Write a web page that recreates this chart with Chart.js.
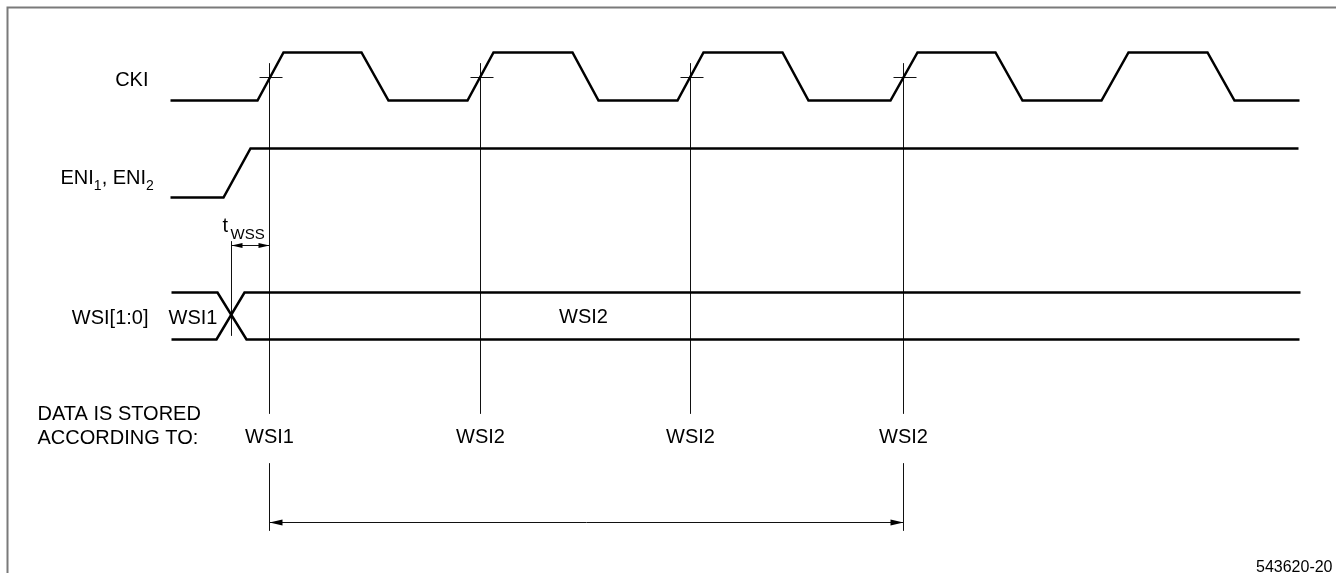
<!DOCTYPE html>
<html>
<head>
<meta charset="utf-8">
<script src="https://cdn.jsdelivr.net/npm/chart.js@4.4.0/dist/chart.umd.min.js"></script>
<style>
  body { margin: 0; background: #fff; }
  #wrap { width: 1336px; height: 573px; position: relative; }
</style>
</head>
<body>
<div id="wrap"><canvas id="diagrama"></canvas></div>
<script>
// señales (x en px del dibujo, y hacia abajo)
const ckiX = [170, 257, 283, 361, 388, 467, 493, 572, 598, 677, 703, 782, 808, 890, 917, 995, 1022, 1101, 1128, 1207, 1234, 1299];
const ckiY = [100, 100, 52, 52, 100, 100, 52, 52, 100, 100, 52, 52, 100, 100, 52, 52, 100, 100, 52, 52, 100, 100];

const eniX = [170, 223, 250, 1298];
const eniY = [197, 197, 148, 148];

const wsiAltoX = [171, 217, 246, 1299];
const wsiAltoY = [292, 292, 339, 339];
const wsiBajoX = [171, 216, 244, 1300];
const wsiBajoY = [339, 339, 292, 292];

// flancos de muestreo
const muestrasX = [269, 480, 690, 903];
const guardadoComo = ["WSI1", "WSI2", "WSI2", "WSI2"];
const cruceY = 77;
const setupX = 231;

// marco
const marcoX = [7, 7, 1336];
const marcoY = [573, 7, 7];

function puntos(xs, ys) {
    return xs.map((x, i) => ({ x: x, y: ys[i] }));
}

function linea(data, ancho, color) {
    return {
        data: data,
        showLine: true,
        borderColor: color,
        borderWidth: ancho,
        pointRadius: 0,
        tension: 0,
        fill: false
    };
}

const datasets = [];
datasets.push(linea(puntos(marcoX, marcoY), 2, "#7a7a7a"));
datasets.push(linea(puntos(ckiX, ckiY), 2.5, "#000"));
datasets.push(linea(puntos(eniX, eniY), 2.5, "#000"));
datasets.push(linea(puntos(wsiAltoX, wsiAltoY), 2.5, "#000"));
datasets.push(linea(puntos(wsiBajoX, wsiBajoY), 2.5, "#000"));

// lineas verticales y cruces
muestrasX.forEach((x, i) => {
    datasets.push(linea([{ x: x, y: 63 }, { x: x, y: 413 }], 1, "#111"));
    datasets.push(linea([{ x: x - 10, y: cruceY }, { x: x + 13, y: cruceY }], 1, "#111"));
    if (i === 0 || i === muestrasX.length - 1) {
        datasets.push(linea([{ x: x, y: 463 }, { x: x, y: 530 }], 1, "#111"));
    }
});
datasets.push(linea([{ x: setupX, y: 241 }, { x: setupX, y: 335 }], 1, "#111"));
// flechas
datasets.push(linea([{ x: setupX, y: 245 }, { x: muestrasX[0], y: 245 }], 1, "#111"));
datasets.push(linea([{ x: muestrasX[0], y: 522 }, { x: muestrasX[3], y: 522 }], 1, "#111"));

const textos = {
    id: "textos",
    afterDatasetsDraw(chart) {
        const ctx = chart.ctx;
        const sx = chart.scales.x, sy = chart.scales.y;
        const X = v => sx.getPixelForValue(v);
        const Y = v => sy.getPixelForValue(v);
        const fuente = "'Liberation Sans', Arial, sans-serif";

        function punta(x, y, dir, largo, medio) {
            ctx.beginPath();
            ctx.moveTo(X(x), Y(y));
            ctx.lineTo(X(x) - dir * largo, Y(y) - medio);
            ctx.lineTo(X(x) - dir * largo, Y(y) + medio);
            ctx.closePath();
            ctx.fill();
        }

        ctx.save();
        ctx.fillStyle = "#000";
        punta(setupX, 245, -1, 11, 2.5);
        punta(muestrasX[0], 245, 1, 11, 2.5);
        punta(muestrasX[0], 522, -1, 13, 3);
        punta(muestrasX[3], 522, 1, 13, 3);

        ctx.textBaseline = "alphabetic";
        ctx.font = "20px " + fuente;

        ctx.textAlign = "right";
        ctx.fillText("CKI", X(148), Y(85));
        ctx.fillText("WSI[1:0]", X(148), Y(323));

        ctx.textAlign = "left";
        ctx.fillText("WSI1", X(168), Y(323));
        ctx.fillText("DATA IS STORED", X(37), Y(419));
        ctx.fillText("ACCORDING TO:", X(37), Y(443));

        // ENI1, ENI2 con subindices
        let px = X(60);
        const base = Y(183);
        const partes = [["ENI", 0], ["1", 1], [", ENI", 0], ["2", 1]];
        partes.forEach(p => {
            ctx.font = (p[1] ? "14px " : "20px ") + fuente;
            ctx.fillText(p[0], px, base + (p[1] ? 6 : 0));
            px += ctx.measureText(p[0]).width;
        });

        // tWSS
        ctx.font = "20px " + fuente;
        ctx.fillText("t", X(222), Y(231));
        ctx.font = "15px " + fuente;
        ctx.fillText("WSS", X(230), Y(238));

        ctx.font = "20px " + fuente;
        ctx.textAlign = "center";
        ctx.fillText("WSI2", X(583), Y(322));
        guardadoComo.forEach((t, i) => {
            ctx.fillText(t, X(muestrasX[i]), Y(442));
        });

        ctx.font = "16px " + fuente;
        ctx.textAlign = "right";
        ctx.fillText("543620-20", X(1332), Y(571));
        ctx.restore();
    }
};

new Chart(document.getElementById("diagrama").getContext("2d"), {
    type: "scatter",
    data: { datasets: datasets },
    options: {
        responsive: true,
        maintainAspectRatio: false,
        animation: false,
        layout: { padding: 0 },
        plugins: { legend: { display: false }, tooltip: { enabled: false } },
        scales: {
            // medio pixel para que las lineas finas queden nitidas
            x: { type: "linear", min: -0.5, max: 1335.5, display: false },
            y: { type: "linear", min: -0.5, max: 572.5, reverse: true, display: false }
        }
    },
    plugins: [textos]
});
</script>
</body>
</html>
